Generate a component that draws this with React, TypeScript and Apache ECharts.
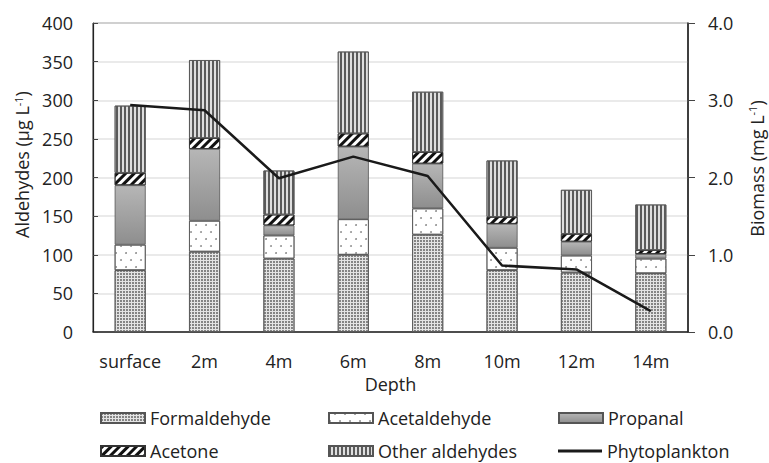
import React, { useEffect, useRef } from "react";
import * as echarts from "echarts";

const depths = ["surface", "2m", "4m", "6m", "8m", "10m", "12m", "14m"];
const formaldehyde = [80, 104, 95, 100, 126, 80, 77, 76];
const acetaldehyde = [33, 40, 30, 46, 34, 29, 22, 19];
const propanal = [77, 93, 13, 94, 58, 31, 18, 6];
const acetone = [16, 14, 14, 17, 15, 9, 10, 5];
const otherAldehydes = [87, 101, 57, 106, 78, 73, 57, 59];
const phytoplankton = [2.94, 2.87, 1.99, 2.27, 2.02, 0.86, 0.81, 0.27];

const leftTicks = { min: 0, max: 400, interval: 50 };
const rightTicks = { min: 0, max: 4, interval: 1 };

const FONT = "Open Sans";
const TXT = "#222";

export default function App() {
  const ref = useRef<HTMLDivElement>(null);
  useEffect(() => {
    if (!ref.current) return;
    const chart = echarts.init(ref.current, undefined, { renderer: "svg" });
    const border = { borderColor: "#555", borderWidth: 0.8 };
    const legendBase = {
      padding: 0,
      itemWidth: 44,
      itemHeight: 10,
      selectedMode: false,
      textStyle: { fontSize: 18, color: TXT, fontFamily: FONT, lineHeight: 18 },
    };
    const option: any = {
      animation: false,
      textStyle: { fontFamily: FONT },
      grid: {
        left: 93,
        right: 81,
        top: 23,
        bottom: 131,
        show: true,
        borderColor: "#333",
        borderWidth: 1,
        containLabel: false,
        outerBoundsMode: "none",
      },
      legend: [
        { ...legendBase, data: [{ name: "Formaldehyde", icon: "rect" }], left: 100, top: 409 },
        { ...legendBase, data: [{ name: "Acetaldehyde", icon: "rect" }], left: 328, top: 409 },
        { ...legendBase, data: [{ name: "Propanal", icon: "rect" }], left: 558, top: 409 },
        { ...legendBase, data: [{ name: "Acetone", icon: "rect" }], left: 100, top: 442 },
        { ...legendBase, data: [{ name: "Other aldehydes", icon: "rect" }], left: 328, top: 442 },
        {
          ...legendBase,
          itemHeight: 3,
          data: [{ name: "Phytoplankton", icon: "rect" }],
          left: 558,
          top: 442,
        },
      ],
      xAxis: {
        type: "category",
        data: depths,
        name: "Depth",
        nameLocation: "middle",
        nameGap: 43,
        nameTextStyle: { fontSize: 18, color: TXT, fontFamily: FONT },
        axisLine: { lineStyle: { color: "#222", width: 1.5 } },
        axisTick: { show: false },
        axisLabel: { fontSize: 18, color: TXT, margin: 20, fontFamily: FONT, interval: 0 },
      },
      yAxis: [
        {
          type: "value",
          ...leftTicks,
          name: "Aldehydes (µg L{sup|-1})",
          nameLocation: "middle",
          nameRotate: 90,
          nameGap: 60,
          nameTextStyle: {
            fontSize: 18,
            color: TXT,
            fontFamily: FONT,
            padding: [0, 0, 0, 26],
            rich: { sup: { fontSize: 11, color: TXT, fontFamily: FONT, verticalAlign: "top", padding: [0, 0, 8, 0] } },
          },
          axisLine: { show: true, lineStyle: { color: "#222", width: 1.2 } },
          axisTick: { show: true, inside: true, length: 5, lineStyle: { color: "#444" } },
          axisLabel: { fontSize: 18, color: TXT, margin: 20, fontFamily: FONT },
          splitLine: { lineStyle: { color: "#e3e3e3", width: 1.5 } },
        },
        {
          type: "value",
          ...rightTicks,
          position: "right",
          name: "Biomass (mg L{sup|-1})",
          nameLocation: "middle",
          nameRotate: 90,
          nameGap: 59,
          nameTextStyle: {
            fontSize: 18,
            color: TXT,
            fontFamily: FONT,
            padding: [0, 0, 0, 18],
            rich: { sup: { fontSize: 11, color: TXT, fontFamily: FONT, verticalAlign: "top", padding: [0, 0, 8, 0] } },
          },
          axisLine: { show: true, lineStyle: { color: "#222", width: 1.5 } },
          axisTick: { show: true, length: 7, lineStyle: { color: "#444" } },
          axisLabel: {
            fontSize: 18,
            color: TXT,
            margin: 20,
            fontFamily: FONT,
            formatter: (v: number) => v.toFixed(1),
          },
          splitLine: { show: false },
        },
      ],
      series: [
        {
          name: "Formaldehyde",
          type: "bar",
          stack: "a",
          barWidth: 31,
          data: formaldehyde,
          itemStyle: {
            color: "#e4e4e4",
            ...border,
            decal: {
              symbol: "rect",
              symbolSize: 0.9,
              symbolKeepAspect: false,
              color: "#7a7a7a",
              backgroundColor: "#e4e4e4",
              dashArrayX: [2, 1],
              dashArrayY: [2, 1],
            },
          },
        },
        {
          name: "Acetaldehyde",
          type: "bar",
          stack: "a",
          data: acetaldehyde,
          itemStyle: {
            color: "#ffffff",
            ...border,
            decal: {
              symbol: "circle",
              symbolSize: 0.9,
              color: "#888",
              backgroundColor: "#ffffff",
              dashArrayX: [[2, 8], [0, 5, 2, 3]],
              dashArrayY: [2, 5],
            },
          },
        },
        {
          name: "Propanal",
          type: "bar",
          stack: "a",
          data: propanal,
          itemStyle: {
            color: new echarts.graphic.LinearGradient(0, 0, 0, 1, [
              { offset: 0, color: "#b6b6b6" },
              { offset: 1, color: "#8e8e8e" },
            ]),
            ...border,
          },
        },
        {
          name: "Acetone",
          type: "bar",
          stack: "a",
          data: acetone,
          itemStyle: {
            color: "#ffffff",
            borderColor: "#333",
            borderWidth: 0.8,
            decal: {
              symbol: "rect",
              symbolSize: 1,
              symbolKeepAspect: false,
              color: "#111",
              backgroundColor: "#ffffff",
              dashArrayX: [1, 0],
              dashArrayY: [3, 3],
              rotation: -Math.PI / 4,
            },
          },
        },
        {
          name: "Other aldehydes",
          type: "bar",
          stack: "a",
          data: otherAldehydes,
          itemStyle: {
            color: "#dedede",
            ...border,
            decal: {
              symbol: "rect",
              symbolSize: 1,
              symbolKeepAspect: false,
              color: "#5a5a5a",
              backgroundColor: "#dedede",
              dashArrayX: [2, 2],
              dashArrayY: [4, 0],
            },
          },
        },
        {
          name: "Phytoplankton",
          type: "line",
          yAxisIndex: 1,
          data: phytoplankton,
          symbol: "none",
          z: 5,
          lineStyle: { color: "#1a1a1a", width: 2.5 },
          itemStyle: { color: "#1a1a1a" },
        },
      ],
    };
    chart.setOption(option);
    return () => chart.dispose();
  }, []);
  return (
    <div
      ref={ref}
      style={{ position: "absolute", left: 0, top: 0, width: 769, height: 463 }}
    />
  );
}
